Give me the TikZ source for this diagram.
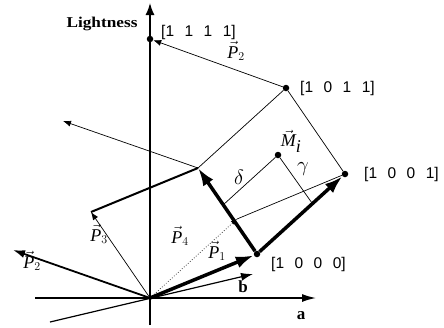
\documentclass[tikz,border=0pt]{standalone}
\usepackage{fontspec}
\setmainfont{Liberation Serif}
\newfontfamily\labfont{Liberation Sans}
\usetikzlibrary{arrows.meta}
\newcommand\vtxlab[4]{{\labfont\fontsize{15.5}{18}\selectfont[#1\hspace{10.5pt}#2\hspace{10.5pt}#3\hspace{10.5pt}#4]}}
\newcommand\pvec[1]{$\vec{\textit{P}}_{#1}$}
\begin{document}
\begin{tikzpicture}[x=1pt,y=-1pt,font=\fontsize{15}{18}\selectfont,
  fine/.style={line width=0.7pt},
  finearrow/.style={fine,-{Latex[length=8pt,width=6pt]}},
  heavy/.style={line width=3.5pt,-{Latex[length=18pt,width=12pt]}},
  axisline/.style={line width=1.5pt,-{Latex[length=12pt,width=9pt]}},
  dot/.style={circle,fill,inner sep=0pt,minimum size=6.5pt},
  vlab/.style={anchor=west,inner sep=0pt},
  plab/.style={inner sep=0pt,font=\fontsize{18}{20}\selectfont},
  glab/.style={inner sep=0pt,font=\fontsize{21}{24}\selectfont}]
\useasboundingbox (0,0) rectangle (444,327);
% coordinates
\coordinate (O) at (150,298);
\coordinate (vbot) at (150,325);
\coordinate (vtop) at (150,3);
\coordinate (hleft) at (35,298);
\coordinate (hright) at (316,298);
\coordinate (bleft) at (50,322);
\coordinate (btip) at (253,274);
\coordinate (v1010) at (198,168);
\coordinate (v0010) at (91,212);
\coordinate (v0001) at (237,219);
\coordinate (v1110) at (63,121);
\coordinate (p2tip) at (13,250);
\coordinate (dstart) at (223,205);
\coordinate (gstart) at (312,203);
% dots
\node[dot] (d1111) at (150,39) {};
\node[dot] (d1011) at (286,88) {};
\node[dot] (d1001) at (345,174) {};
\node[dot] (d1000) at (257,254) {};
\node[dot] (dMi) at (278,155) {};
% axes
\draw[axisline] (vbot) -- (vtop);
\draw[axisline,-{Latex[length=14pt,width=8pt]}] (hleft) -- (hright);
\draw[line width=1.2pt,-{Latex[length=12pt,width=8pt]}] (bleft) -- (btip);
% thin edges
\draw[fine] (v0001) -- (d1001);
\draw[fine] (v1010) -- (d1011);
\draw[fine] (d1011) -- (d1001);
\draw[finearrow] (d1011) -- (d1111);
\draw[finearrow] (v1010) -- (v1110);
\draw[fine] (dstart) -- (dMi);
\draw[fine] (gstart) -- (dMi);
\draw[finearrow] (O) -- (v0010);
\draw[fine,dotted,-{Latex[length=6pt,width=5pt]}] (O) -- (v0001);
% thick vectors
\draw[line width=2pt] (v0010) -- (v1010);
\draw[line width=1.8pt,-{Latex[length=12pt,width=8pt]}] (O) -- (p2tip);
\draw[heavy] (O) -- (d1000);
\draw[heavy] (d1000) -- (d1001);
\draw[heavy] (d1000) -- (v1010);
% vertex labels
\node[vlab] (l1111) at (161,32) {\vtxlab1111};
\node[vlab] (l1011) at (300,88) {\vtxlab1011};
\node[vlab] (l1001) at (364,174) {\vtxlab1001};
\node[vlab] (l1000) at (271,264) {\vtxlab1000};
% vector labels
\node[plab] (lP1) at (217,251) {\pvec{1}};
\node[plab] (lP2a) at (236,51) {\pvec{2}};
\node[plab] (lP2b) at (32,261) {\pvec{2}};
\node[plab] (lP3) at (99,234) {\pvec{3}};
\node[plab] (lP4) at (180,236) {\pvec{4}};
\node[plab] (lM) at (291,141) {$\vec{\textit{M}}_{\textit{i}}$};
\node[glab] (ldelta) at (239,177) {$\delta$};
\node[glab] (lgamma) at (303,169) {$\gamma$};
% axis labels
\node[inner sep=0pt] (lL) at (102,24) {\bfseries\scalebox{1.15}[1]{Lightness}};
\node[inner sep=0pt,font=\fontsize{17}{20}\selectfont\bfseries] (la) at (301,316) {a};
\node[inner sep=0pt,font=\fontsize{17}{20}\selectfont\bfseries] (lb) at (243,287) {b};
\end{tikzpicture}
\end{document}
